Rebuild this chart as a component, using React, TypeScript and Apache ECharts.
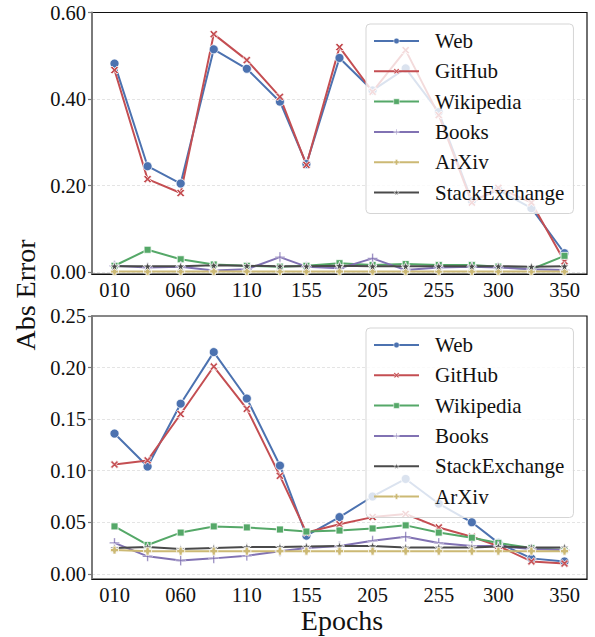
import React, { useEffect, useRef } from "react";
import * as echarts from "echarts";

const epochs = [10, 35, 60, 85, 110, 135, 155, 180, 205, 230, 255, 280, 300, 325, 350];
const xTickValues = [10, 60, 110, 155, 205, 255, 300, 350];
const yTicksTop = [0, 0.2, 0.4, 0.6];
const yTicksBottom = [0, 0.05, 0.1, 0.15, 0.2, 0.25];

// Top panel
const webTop = [0.482, 0.245, 0.205, 0.515, 0.47, 0.394, 0.25, 0.495, 0.42, 0.471, 0.37, 0.165, 0.19, 0.148, 0.044];
const githubTop = [0.467, 0.215, 0.183, 0.55, 0.49, 0.405, 0.248, 0.52, 0.417, 0.513, 0.363, 0.161, 0.195, 0.161, 0.025];
const wikiTop = [0.015, 0.052, 0.03, 0.018, 0.015, 0.013, 0.015, 0.021, 0.017, 0.019, 0.017, 0.017, 0.013, 0.007, 0.038];
const booksTop = [0.015, 0.011, 0.013, 0.004, 0.007, 0.035, 0.013, 0.009, 0.032, 0.005, 0.011, 0.013, 0.011, 0.007, 0.005];
const arxivTop = [0.002, 0.002, 0.002, 0.002, 0.002, 0.002, 0.002, 0.002, 0.002, 0.002, 0.002, 0.002, 0.002, 0.002, 0.002];
const stackTop = [0.014, 0.014, 0.014, 0.016, 0.015, 0.014, 0.014, 0.015, 0.014, 0.014, 0.014, 0.014, 0.014, 0.013, 0.014];

// Bottom panel
const webBottom = [0.136, 0.104, 0.165, 0.215, 0.17, 0.105, 0.037, 0.055, 0.075, 0.092, 0.068, 0.05, 0.03, 0.015, 0.012];
const githubBottom = [0.106, 0.11, 0.155, 0.201, 0.16, 0.095, 0.04, 0.048, 0.055, 0.058, 0.045, 0.036, 0.027, 0.012, 0.01];
const wikiBottom = [0.046, 0.028, 0.04, 0.046, 0.045, 0.043, 0.041, 0.042, 0.044, 0.047, 0.04, 0.035, 0.03, 0.025, 0.023];
const booksBottom = [0.03, 0.017, 0.013, 0.015, 0.0175, 0.022, 0.025, 0.027, 0.032, 0.036, 0.03, 0.027, 0.027, 0.024, 0.023];
const stackBottom = [0.025, 0.026, 0.024, 0.025, 0.026, 0.026, 0.0265, 0.027, 0.027, 0.0256, 0.0256, 0.0256, 0.0265, 0.0256, 0.0256];
const arxivBottom = [0.023, 0.022, 0.022, 0.022, 0.022, 0.022, 0.022, 0.022, 0.022, 0.022, 0.022, 0.022, 0.022, 0.022, 0.022];

const FONT = "'Liberation Serif', 'Times New Roman', serif";

const COLORS: Record<string, string> = {
  Web: "#4C72B0",
  GitHub: "#C44E52",
  Wikipedia: "#55A868",
  Books: "#8172B3",
  ArXiv: "#CCB974",
  StackExchange: "#4a4a4a",
};

const SYMBOLS: Record<string, [string, number]> = {
  Web: ["circle", 9],
  GitHub: ["path://M0,2 L2,0 L5,3 L8,0 L10,2 L7,5 L10,8 L8,10 L5,7 L2,10 L0,8 L3,5 Z", 8],
  Wikipedia: ["rect", 7],
  Books: ["path://M4.3,0 H5.7 V4.3 H10 V5.7 H5.7 V10 H4.3 V5.7 H0 V4.3 H4.3 Z", 10],
  ArXiv: ["path://M3,0 H7 V3 H10 V7 H7 V10 H3 V7 H0 V3 H3 Z", 8],
  StackExchange: ["path://M5,0 L6.2,3.6 L10,3.6 L6.9,5.9 L8.1,9.5 L5,7.3 L1.9,9.5 L3.1,5.9 L0,3.6 L3.8,3.6 Z", 9],
};

function makeSeries(name: string, values: number[], idx: number) {
  const [symbol, size] = SYMBOLS[name];
  return {
    name,
    type: "line",
    xAxisIndex: idx,
    yAxisIndex: idx,
    data: epochs.map((e, i) => [e, values[i]]),
    symbol,
    symbolSize: size,
    showSymbol: true,
    lineStyle: { color: COLORS[name], width: 2 },
    itemStyle: { color: COLORS[name], borderColor: "#ffffff", borderWidth: name === "Books" ? 0.4 : 0.8 },
    emphasis: { disabled: true },
  };
}

function legendCfg(top: number, names: string[]) {
  return {
    show: true,
    orient: "vertical",
    left: 366,
    top,
    data: names,
    itemWidth: 45,
    itemHeight: 7,
    itemGap: 8.3,
    padding: [6, 9, 10, 7],
    backgroundColor: "rgba(255,255,255,0.8)",
    borderColor: "#d5d5d5",
    borderWidth: 1,
    borderRadius: 4,
    selectedMode: false,
    itemStyle: { borderWidth: 0.5, borderColor: "#ffffff" },
    textStyle: { fontFamily: FONT, fontSize: 21, color: "#111", lineHeight: 22, padding: [0, 0, 0, 11] },
  };
}

function xAxisCfg(gridIndex: number) {
  return {
    type: "value",
    gridIndex,
    min: -7,
    max: 367,
    axisLine: { show: true, onZero: false, lineStyle: { color: "#111", width: 1.2 } },
    axisTick: { show: false, customValues: xTickValues },
    axisLabel: {
      customValues: xTickValues,
      formatter: (v: number) => String(Math.round(v)).padStart(3, "0"),
      fontFamily: FONT,
      fontSize: 20.5,
      color: "#111",
      margin: 5,
    },
    splitLine: { show: false },
  };
}

function yAxisCfg(gridIndex: number, min: number, max: number, ticks: number[]) {
  return {
    type: "value",
    gridIndex,
    min,
    max,
    axisLine: { show: true, onZero: false, lineStyle: { color: "#7a7a7a", width: 2 } },
    axisTick: { show: true, customValues: ticks, length: 4, lineStyle: { color: "#7a7a7a", width: 1.2 } },
    axisLabel: {
      customValues: ticks,
      formatter: (v: number) => v.toFixed(2),
      fontFamily: FONT,
      fontSize: 20.5,
      color: "#111",
      margin: 6,
    },
    splitLine: { show: true, showMaxLine: false, lineStyle: { color: "#dddddd", width: 0.8, type: [3, 2] } },
  };
}

export default function App() {
  const ref = useRef<HTMLDivElement>(null);
  useEffect(() => {
    if (!ref.current) return;
    const chart = echarts.init(ref.current, undefined, { renderer: "svg" });
    const topNames = ["Web", "GitHub", "Wikipedia", "Books", "ArXiv", "StackExchange"];
    const bottomNames = ["Web", "GitHub", "Wikipedia", "Books", "StackExchange", "ArXiv"];
    const topVals: Record<string, number[]> = {
      Web: webTop, GitHub: githubTop, Wikipedia: wikiTop, Books: booksTop, ArXiv: arxivTop, StackExchange: stackTop,
    };
    const bottomVals: Record<string, number[]> = {
      Web: webBottom, GitHub: githubBottom, Wikipedia: wikiBottom, Books: booksBottom, StackExchange: stackBottom, ArXiv: arxivBottom,
    };
    const series: any[] = [];
    topNames.forEach((n) => series.push(makeSeries(n, topVals[n], 0)));
    bottomNames.forEach((n) => series.push(makeSeries(n, bottomVals[n], 1)));

    chart.setOption({
      animation: false,
      backgroundColor: "#ffffff",
      grid: [
        { left: 92, top: 12.5, width: 495, height: 261.5, show: true, borderColor: "#111", borderWidth: 1.2, backgroundColor: "transparent" },
        { left: 92, top: 316, width: 495, height: 263, show: true, borderColor: "#111", borderWidth: 1.2, backgroundColor: "transparent" },
      ],
      xAxis: [xAxisCfg(0), xAxisCfg(1)],
      yAxis: [yAxisCfg(0, -0.004, 0.6, yTicksTop), yAxisCfg(1, -0.005, 0.25, yTicksBottom)],
      legend: [legendCfg(24, topNames), legendCfg(328, bottomNames)],
      series,
      graphic: [
        {
          type: "text",
          x: 25,
          y: 295,
          rotation: Math.PI / 2,
          style: { text: "Abs Error", font: `28px ${FONT}`, fill: "#111", textAlign: "center", textVerticalAlign: "middle" },
        },
        {
          type: "text",
          x: 342,
          y: 620,
          style: { text: "Epochs", font: `28px ${FONT}`, fill: "#111", textAlign: "center", textVerticalAlign: "middle" },
        },
      ],
    });
    return () => chart.dispose();
  }, []);
  return <div ref={ref} style={{ width: 595, height: 637, position: "absolute", left: 0, top: 0 }} />;
}
